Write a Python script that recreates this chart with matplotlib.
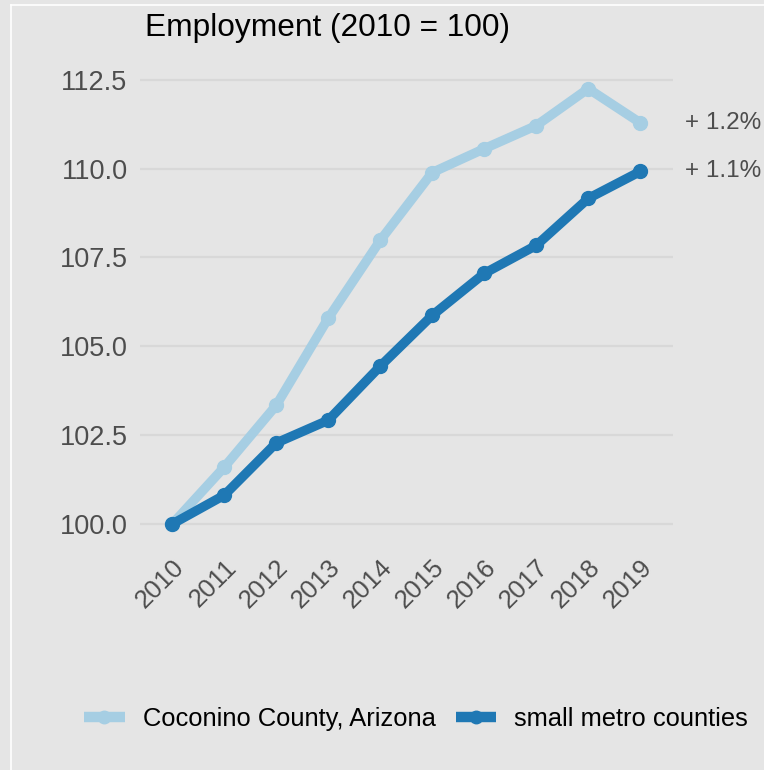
import matplotlib.pyplot as plt
from matplotlib.lines import Line2D

plt.rcParams['font.family'] = ['Liberation Sans', 'DejaVu Sans']

# 就业指数数据（2010 = 100）
years = [2010, 2011, 2012, 2013, 2014, 2015, 2016, 2017, 2018, 2019]
coconino = [100.0, 101.6, 103.34, 105.79, 107.98, 109.89, 110.56, 111.21, 112.25, 111.29]
small_metro = [100.0, 100.81, 102.28, 102.92, 104.44, 105.87, 107.05, 107.84, 109.16, 109.92]
series_names = ['Coconino County, Arizona', 'small metro counties']
growth_labels = ['+ 1.2%', '+ 1.1%']
y_ticks = [100.0, 102.5, 105.0, 107.5, 110.0, 112.5]

bg = '#E5E5E5'
light_blue = '#A6CEE3'
dark_blue = '#1F78B4'

fig = plt.figure(figsize=(7.64, 7.70), dpi=100, facecolor=bg)
W, H = 764, 770
ax = fig.add_axes([140 / W, 1 - 540 / H, (673 - 140) / W, (540 - 62) / H])
ax.set_facecolor(bg)

ax.plot(years, coconino, color=light_blue, lw=6.8, marker='o', ms=10,
        solid_capstyle='butt', solid_joinstyle='round', label=series_names[0], zorder=3)
ax.plot(years, small_metro, color=dark_blue, lw=6.8, marker='o', ms=10,
        solid_capstyle='butt', solid_joinstyle='round', label=series_names[1], zorder=4)

ax.set_xlim(2009.38, 2019.63)
ax.set_ylim(99.55, 113.0)
ax.set_yticks(y_ticks)
ax.set_yticklabels([f'{v:.1f}' for v in y_ticks])
ax.set_xticks(years)
ax.set_xticklabels([str(y) for y in years], rotation=45, ha='right', va='top',
                   rotation_mode='anchor')
ax.tick_params(axis='both', length=0, labelcolor='#4D4D4D')
ax.tick_params(axis='y', labelsize=19.5, pad=9)
ax.tick_params(axis='x', labelsize=18.5, pad=11)
ax.grid(axis='y', color='#D8D8D8', lw=1.6)
ax.grid(axis='x', visible=False)
ax.set_axisbelow(True)
for s in ax.spines.values():
    s.set_visible(False)

# 右侧增长率标注
for vals, txt in zip([coconino, small_metro], growth_labels):
    ax.annotate(txt, xy=(years[-1], vals[-1]), xytext=(32.5, 0),
                textcoords='offset points', ha='left', va='center',
                fontsize=17.5, color='#4D4D4D', annotation_clip=False)

fig.text(145 / W, 1 - 28 / H, 'Employment (2010 = 100)', fontsize=22.8,
         color='black', ha='left', va='center')

handles = [Line2D([], [], color=light_blue, lw=7.5, marker='o', ms=9, solid_capstyle='butt'),
           Line2D([], [], color=dark_blue, lw=7.5, marker='o', ms=9, solid_capstyle='butt')]
fig.legend(handles, series_names, loc='center', bbox_to_anchor=(416 / W, 1 - 719 / H),
           ncol=2, frameon=False, fontsize=18.4, handlelength=1.6, handletextpad=0.7,
           columnspacing=0.78)

# 面板边框（左、上）
fig.add_artist(Line2D([11 / W, 11 / W], [0, 1 - 5 / H], color='white', lw=1.2,
                      transform=fig.transFigure))
fig.add_artist(Line2D([11 / W, 1], [1 - 5 / H, 1 - 5 / H], color='white', lw=1.2,
                      transform=fig.transFigure))

plt.savefig('out.png', dpi=100, facecolor=bg)
